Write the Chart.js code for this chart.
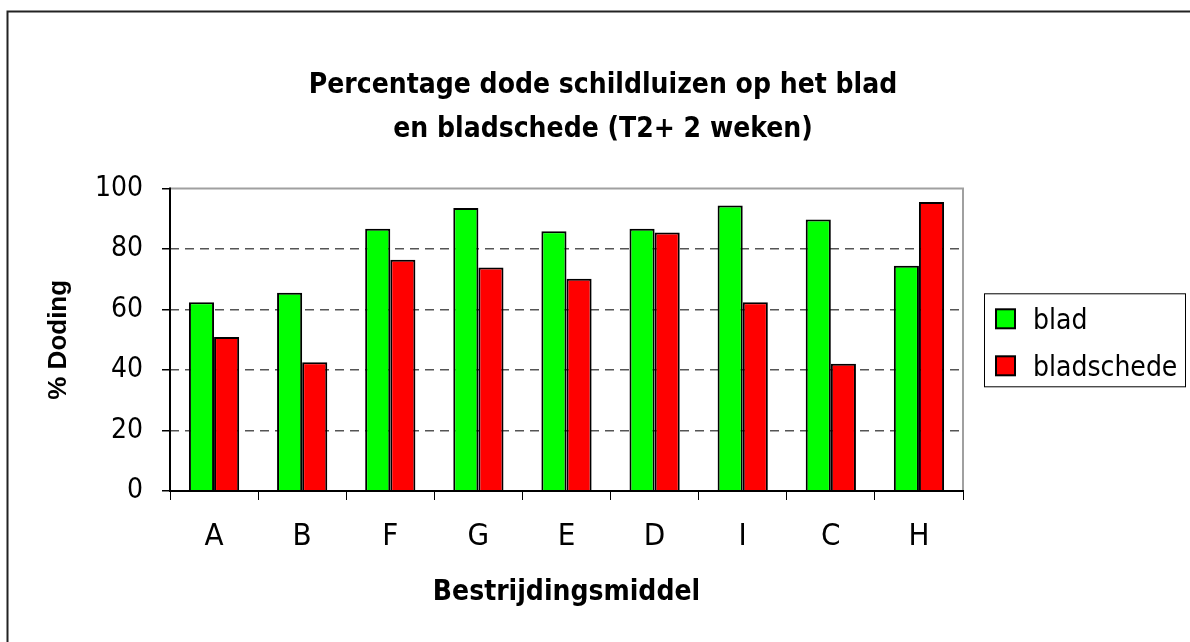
<!DOCTYPE html>
<html>
<head>
<meta charset="utf-8">
<script src="https://cdn.jsdelivr.net/npm/chart.js@4"></script>
<style>
  html, body { margin: 0; padding: 0; background: #fff; }
  #wrap { width: 1190px; height: 642px; }
</style>
</head>
<body>
<div id="wrap"><canvas id="dodingChart" width="1190" height="642"></canvas></div>
<script>
const categories = ['A', 'B', 'F', 'G', 'E', 'D', 'I', 'C', 'H'];
const bladValues = [62.4, 65.6, 86.7, 93.6, 85.9, 86.7, 94.4, 89.8, 74.5];
const bladschedeValues = [50.9, 42.6, 76.5, 73.9, 70.2, 85.5, 62.4, 42.1, 95.6];
const yTicks = [0, 20, 40, 60, 80, 100];

const narrow = "'Liberation Sans Narrow', 'DejaVu Sans Condensed', 'Arial Narrow', sans-serif";

// frame, plot border and axis lines
const framePlugin = {
    id: 'frame',
    afterDraw(chart) {
        const ctx = chart.ctx;
        const a = chart.chartArea;
        ctx.save();
        // top + right border of plot area (grey)
        ctx.strokeStyle = '#a0a0a0';
        ctx.lineWidth = 2;
        ctx.beginPath();
        ctx.moveTo(a.left, a.top);
        ctx.lineTo(a.right, a.top);
        ctx.lineTo(a.right, a.bottom);
        ctx.stroke();
        // axis lines
        ctx.strokeStyle = '#000';
        ctx.beginPath();
        ctx.moveTo(a.left, a.top - 1);
        ctx.lineTo(a.left, a.bottom);
        ctx.lineTo(a.right + 1, a.bottom);
        ctx.stroke();
        // outer chart border
        ctx.strokeStyle = '#222';
        ctx.beginPath();
        ctx.moveTo(7.5, chart.height + 2);
        ctx.lineTo(7.5, 11.5);
        ctx.lineTo(chart.width + 2, 11.5);
        ctx.stroke();
        ctx.restore();
    }
};

// boxed legend on the right, like the spreadsheet one
const boxLegendPlugin = {
    id: 'boxLegend',
    afterDraw(chart) {
        const ctx = chart.ctx;
        const a = chart.chartArea;
        const cy = (a.top + a.bottom) / 2;
        const x0 = a.right + 21, y0 = cy - 46.5;
        ctx.save();
        ctx.strokeStyle = '#000';
        ctx.lineWidth = 1;
        ctx.strokeRect(x0 + 0.5, y0 + 0.5, 201, 93);
        ctx.font = '28px ' + narrow;
        ctx.textBaseline = 'alphabetic';
        chart.data.datasets.forEach(function(ds, i) {
            const sy = y0 + 16 + i * 47;
            ctx.fillStyle = ds.backgroundColor;
            ctx.fillRect(x0 + 12, sy, 19, 19);
            ctx.lineWidth = 2;
            ctx.strokeRect(x0 + 12, sy, 19, 19);
            ctx.fillStyle = '#000';
            ctx.fillText(ds.label, x0 + 49, sy + 20);
        });
        ctx.restore();
    }
};

const ctx = document.getElementById('dodingChart').getContext('2d');

new Chart(ctx, {
    type: 'bar',
    data: {
        labels: categories,
        datasets: [{
            label: 'blad',
            data: bladValues,
            backgroundColor: '#00ff00',
            borderColor: '#000',
            borderWidth: 2
        }, {
            label: 'bladschede',
            data: bladschedeValues,
            backgroundColor: '#ff0000',
            borderColor: '#000',
            borderWidth: 2
        }]
    },
    options: {
        responsive: false,
        animation: false,
        layout: { padding: { left: 16, right: 0, top: 0, bottom: 0 } },
        datasets: {
            bar: { categoryPercentage: 0.57, barPercentage: 1.0 }
        },
        plugins: {
            legend: { display: false },
            tooltip: { enabled: false },
            title: {
                display: true,
                text: ['Percentage dode schildluizen op het blad', 'en bladschede (T2+ 2 weken)'],
                color: '#000',
                font: { family: narrow, size: 28, weight: 'bold', lineHeight: 1.6 },
                padding: { top: 63, bottom: 36 }
            }
        },
        scales: {
            x: {
                grid: {
                    offset: true,
                    drawOnChartArea: false,
                    tickLength: 9,
                    tickColor: '#000',
                    tickWidth: 1
                },
                border: { display: false },
                ticks: {
                    color: '#000',
                    padding: 18,
                    font: { family: narrow, size: 31 }
                },
                title: {
                    display: true,
                    text: 'Bestrijdingsmiddel',
                    color: '#000',
                    font: { family: narrow, size: 28, weight: 'bold' },
                    padding: { top: 0, bottom: 32 }
                },
                afterFit: function(scale) { scale.height = 151; }
            },
            y: {
                min: 0,
                max: 100,
                afterBuildTicks: function(scale) {
                    scale.ticks = yTicks.map(function(v) { return { value: v }; });
                },
                grid: {
                    color: function(c) {
                        return (c.tick && (c.tick.value === 0 || c.tick.value === 100)) ? 'rgba(0,0,0,0)' : '#555';
                    },
                    lineWidth: 1.5,
                    tickColor: '#000',
                    tickLength: 8,
                    tickBorderDash: []
                },
                border: { display: false, dash: [9, 6] },
                ticks: {
                    color: '#000',
                    padding: 19,
                    font: { family: narrow, size: 28 }
                },
                title: {
                    display: true,
                    text: '% Doding',
                    color: '#000',
                    font: { family: "'Liberation Sans', Arial, sans-serif", size: 26, weight: 'bold' },
                    padding: { top: 27, bottom: 0 }
                },
                afterFit: function(scale) { scale.width = 154; }
            },
            legendSpace: {
                type: 'linear',
                position: 'right',
                display: true,
                grid: { display: false },
                border: { display: false },
                ticks: { display: false },
                afterFit: function(scale) { scale.width = 227; }
            }
        }
    },
    plugins: [framePlugin, boxLegendPlugin]
});
</script>
</body>
</html>
